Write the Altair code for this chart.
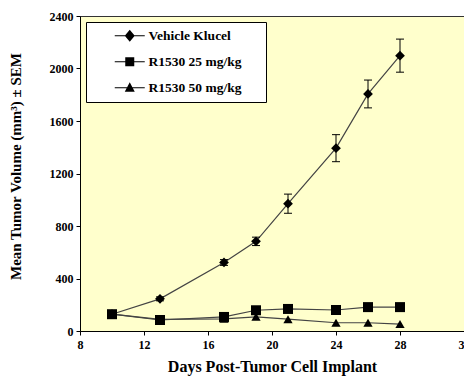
import altair as alt
import pandas as pd

days = [10, 13, 17, 19, 21, 24, 26, 28]
series_names = ["Vehicle  Klucel", "R1530 25 mg/kg", "R1530 50 mg/kg"]
vehicle = [128, 245, 522, 683, 970, 1393, 1806, 2098]
vehicle_sem = [10, 15, 22, 32, 73, 103, 106, 126]
r25 = [128, 84, 107, 158, 168, 160, 182, 182]
r50 = [128, 88, 93, 108, 90, 63, 63, 53]

rows = []
for name, vals in zip(series_names, [vehicle, r25, r50]):
    for d, v in zip(days, vals):
        rows.append({"day": d, "value": v, "series": name})
df = pd.DataFrame(rows)

err = pd.DataFrame({
    "day": days,
    "lo": [v - s for v, s in zip(vehicle, vehicle_sem)],
    "hi": [v + s for v, s in zip(vehicle, vehicle_sem)],
    "series": series_names[0],
})

FONT = "Liberation Serif"
x_ticks = list(range(8, 33))
y_ticks = list(range(0, 2401, 100))

xs = alt.Scale(domain=[8, 32], nice=False, zero=False)
ys = alt.Scale(domain=[0, 2400], nice=False)

xenc = alt.X("day:Q", scale=xs, axis=alt.Axis(
    values=x_ticks, labelExpr="datum.value % 2 == 0 ? datum.label : ''",
    title="Days Post-Tumor Cell Implant", grid=False, tickSize=4,
    labelFont=FONT, labelFontWeight="bold", labelFontSize=12, labelColor="black",
    titleFont=FONT, titleFontWeight="bold", titleFontSize=16, titleColor="black",
    domainColor="black", tickColor="black", labelPadding=4, titlePadding=8,
    labelFlush=False, labelOverlap=False))
yenc = alt.Y("value:Q", scale=ys, axis=alt.Axis(
    values=y_ticks, labelExpr="datum.value % 400 == 0 ? datum.label : ''", format="d",
    title="Mean Tumor Volume (mm³) ± SEM", grid=False, tickSize=4,
    labelFont=FONT, labelFontWeight="bold", labelFontSize=12, labelColor="black",
    titleFont=FONT, titleFontWeight="bold", titleFontSize=15, titleColor="black",
    domainColor="black", tickColor="black", labelPadding=3,
    titleX=-57, titleY=150, labelOverlap=False, labelFlush=False))

base = alt.Chart(df)

line = base.mark_line(color="#444444", strokeWidth=1.2).encode(
    x=xenc, y=yenc, detail="series:N")

shapes = {series_names[0]: "diamond", series_names[1]: "square", series_names[2]: "triangle-up"}
sizes = {series_names[0]: 95, series_names[1]: 100, series_names[2]: 85}
pts = [
    base.transform_filter(alt.datum.series == n).mark_point(
        shape=shapes[n], filled=True, size=sizes[n], color="black", opacity=1
    ).encode(x="day:Q", y="value:Q")
    for n in series_names
]

eb = alt.Chart(err)
rule = eb.mark_rule(color="black", strokeWidth=1).encode(x="day:Q", y="lo:Q", y2="hi:Q")
cap_lo = eb.mark_tick(orient="horizontal", color="black", size=8, thickness=1, opacity=1).encode(x="day:Q", y="lo:Q")
cap_hi = eb.mark_tick(orient="horizontal", color="black", size=8, thickness=1, opacity=1).encode(x="day:Q", y="hi:Q")

leg_paths = [
    "M-3,-0.08L3,-0.08L3,0.08L-3,0.08ZM-1,0L0,-1.2L1,0L0,1.2Z",
    "M-3,-0.08L3,-0.08L3,0.08L-3,0.08ZM-0.9,-0.9L0.9,-0.9L0.9,0.9L-0.9,0.9Z",
    "M-3,-0.08L3,-0.08L3,0.08L-3,0.08ZM-1,0.8L0,-1.1L1,0.8Z",
]
pad_tail = "\u2002\u2800"
legend_layer = base.transform_filter("false").mark_point(
    filled=True, color="black", opacity=1
).encode(
    x="day:Q", y="value:Q",
    shape=alt.Shape("series:N", scale=alt.Scale(domain=series_names, range=leg_paths),
                    legend=alt.Legend(
                        orient="none", legendX=6, legendY=6, title=None,
                        fillColor="white", strokeColor="black", padding=7,
                        symbolSize=100, symbolFillColor="black", symbolStrokeColor="black",
                        symbolStrokeWidth=0, symbolOffset=30, labelOffset=12,
                        rowPadding=11, labelFont=FONT, labelFontWeight="bold",
                        labelFontSize=13.5, labelColor="black",
                        labelExpr="datum.label + '" + pad_tail + "'")),
)

chart = alt.layer(line, rule, cap_lo, cap_hi, *pts, legend_layer).properties(
    width=384, height=315,
    autosize=alt.AutoSizeParams(type="none"),
    padding={"left": 72, "top": 8, "right": 0, "bottom": 46},
    background="white",
).configure_view(fill="#FFFFCC", stroke="#333333", strokeWidth=1)

chart.save("out.html", embed_options={"renderer": "svg", "actions": False})
